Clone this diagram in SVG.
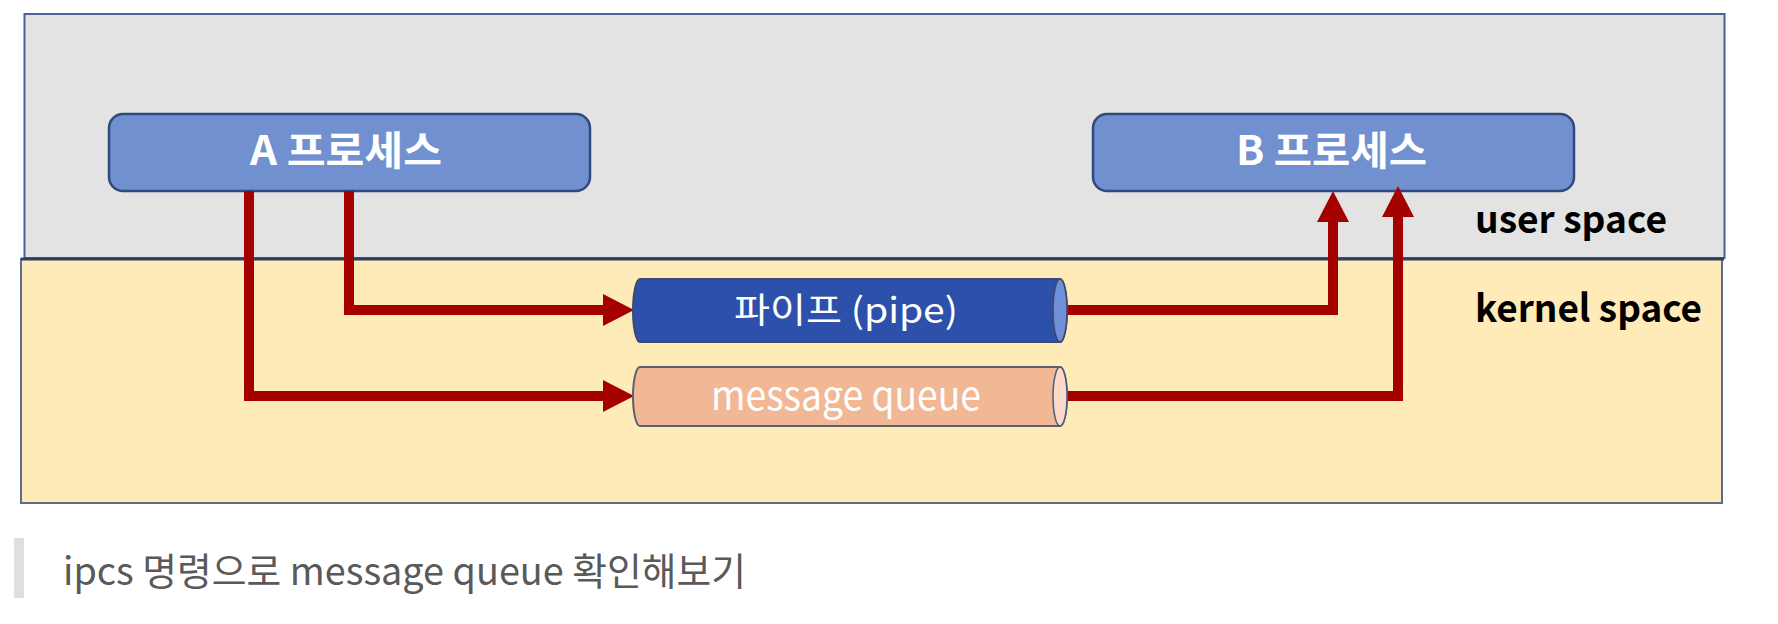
<svg xmlns="http://www.w3.org/2000/svg" width="1778" height="624" viewBox="0 0 1778 624">
<style>
  .kr { font-family: "Noto Sans CJK KR", "Noto Sans", "Liberation Sans", sans-serif; }
  .proc { fill: #7190cf; stroke: #2f4a7e; stroke-width: 2.5; }
  .ptxt { fill: #ffffff; font-weight: bold; font-size: 40px; }
  .conn { fill: none; stroke: #a50000; stroke-width: 10; stroke-linejoin: miter; }
  .label { fill: #000000; font-weight: bold; font-size: 38px; }
</style>
<defs>
  <marker id="ah" markerUnits="userSpaceOnUse" markerWidth="32" markerHeight="34" refX="0" refY="16" orient="auto">
    <path d="M0,0 L31,16 L0,32 Z" fill="#a50000"/>
  </marker>
</defs>
<rect width="1778" height="624" fill="#ffffff"/>
<g id="user-space">
  <rect x="24.5" y="14" width="1700" height="244" fill="#e3e3e3" stroke="#4a6294" stroke-width="2"/>
  <text class="kr label" x="1475" y="233" textLength="192" lengthAdjust="spacingAndGlyphs">user space</text>
</g>
<g id="kernel-space">
  <rect x="21" y="259" width="1701" height="244" fill="#feebb7" stroke="#5f6d8c" stroke-width="2"/>
  <line x1="21" y1="259" x2="1724" y2="259" stroke="#2c3e63" stroke-width="3"/>
  <text class="kr label" x="1475" y="322" textLength="227" lengthAdjust="spacingAndGlyphs">kernel space</text>
</g>
<g id="process-a">
  <rect class="proc" x="109" y="114" width="481" height="77" rx="14"/>
  <text class="kr ptxt" x="250" y="165" textLength="192" lengthAdjust="spacingAndGlyphs">A 프로세스</text>
</g>
<g id="process-b">
  <rect class="proc" x="1093" y="114" width="481" height="77" rx="14"/>
  <text class="kr ptxt" x="1236" y="165" textLength="191" lengthAdjust="spacingAndGlyphs">B 프로세스</text>
</g>
<g id="connectors">
  <path class="conn" d="M349,191 V310 H603" marker-end="url(#ah)"/>
  <path class="conn" d="M249,191 V396 H603" marker-end="url(#ah)"/>
  <path class="conn" d="M1067,310 H1333 V222" marker-end="url(#ah)"/>
  <path class="conn" d="M1067,396 H1398 V217" marker-end="url(#ah)"/>
</g>
<g id="pipe">
  <path d="M640,279 H1060 A7,31.5 0 0 1 1060,342 H640 A7,31.5 0 0 1 640,279 Z" fill="#2d50ab" stroke="#3d4a70" stroke-width="2"/>
  <ellipse cx="1060" cy="310.5" rx="7" ry="31.5" fill="#6f8fd6" stroke="#3d4a70" stroke-width="1.5"/>
  <text class="kr" x="734" y="323" font-size="35" fill="#ffffff" textLength="224" lengthAdjust="spacingAndGlyphs">파이프 (pipe)</text>
</g>
<g id="message-queue">
  <path d="M640,367 H1060 A7,29.5 0 0 1 1060,426 H640 A7,29.5 0 0 1 640,367 Z" fill="#f2b794" stroke="#5a6070" stroke-width="2"/>
  <ellipse cx="1060" cy="396.5" rx="7" ry="29.5" fill="#fbd9c6" stroke="#4a5a80" stroke-width="1.5"/>
  <text class="kr" x="711" y="410" font-size="40" fill="#ffffff" textLength="270" lengthAdjust="spacingAndGlyphs">message queue</text>
</g>
<g id="caption">
  <rect x="14" y="538" width="10" height="60" fill="#dde0e3"/>
  <text class="kr" x="63" y="585" font-size="38" fill="#595959" textLength="683" lengthAdjust="spacingAndGlyphs">ipcs 명령으로 message queue 확인해보기</text>
</g>
</svg>
